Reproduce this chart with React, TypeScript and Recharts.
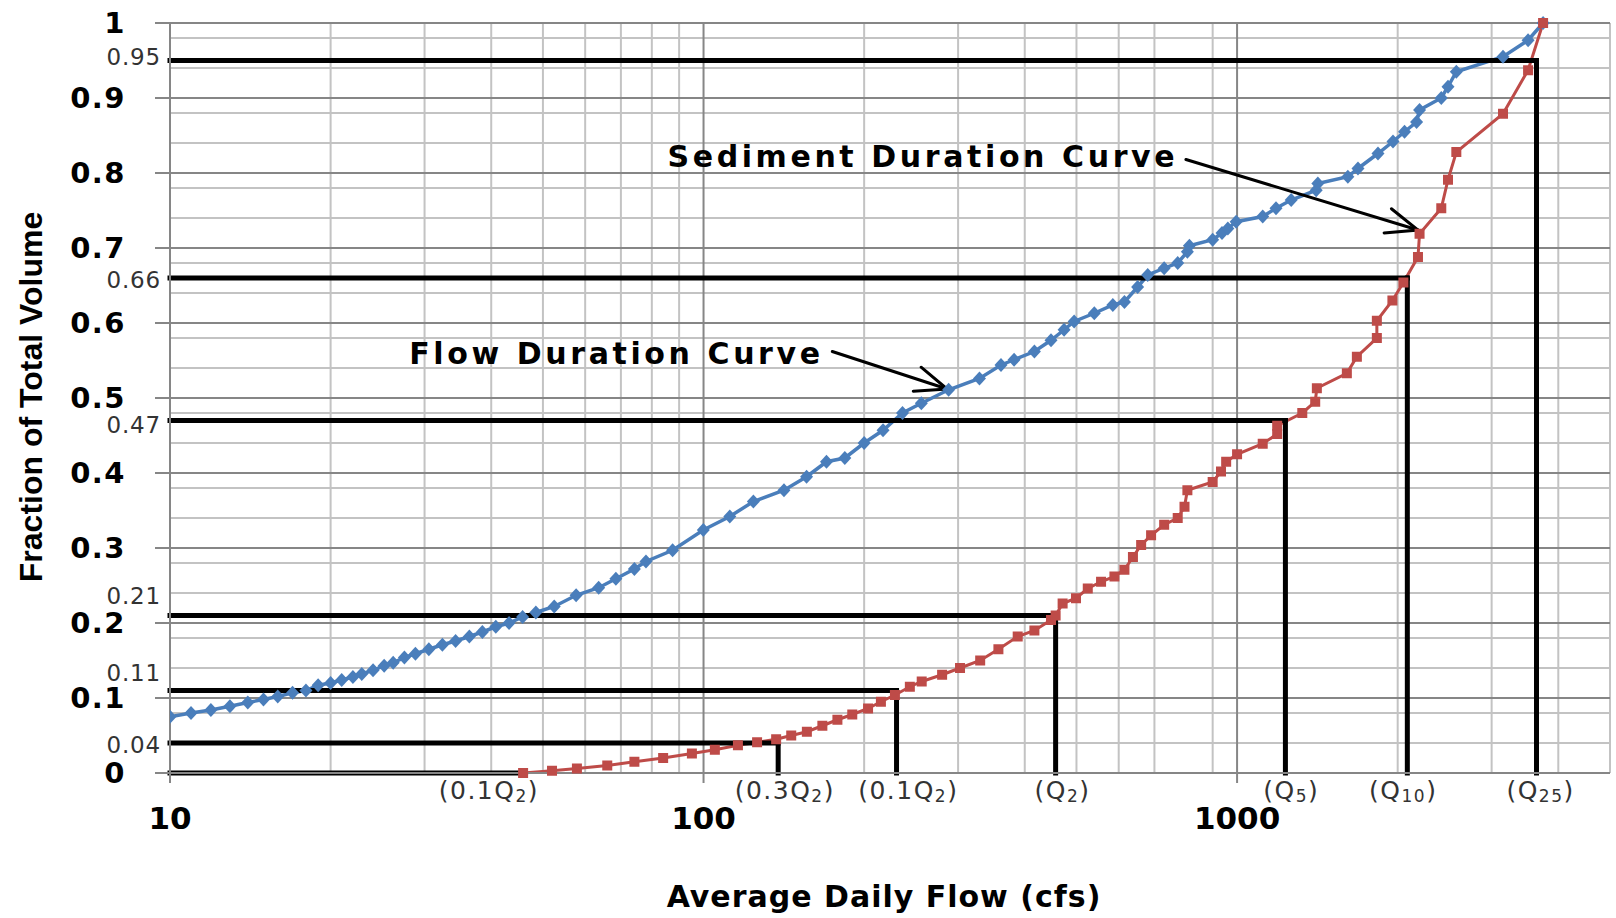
import React from "react";
import {
  LineChart,
  Line,
  XAxis,
  YAxis,
  CartesianGrid,
  ReferenceLine,
  ReferenceDot,
} from "recharts";

// Flow duration curve (blue)
const flowQ = [
  10, 10.95, 11.93, 12.95, 13.99, 14.97, 15.92, 16.97, 17.98, 18.95, 20, 20.98,
  22.02, 22.88, 24.02, 25.2, 26.2, 27.5, 28.84, 30.56, 32.4, 34.3, 36.4, 38.5,
  40.8, 43.2, 45.8, 48.5, 52.5, 57.7, 63.6, 68.5, 74.2, 78, 87.5, 99.9, 112,
  124, 141.5, 156, 170, 184, 200, 217, 236, 256, 288, 329, 361, 382, 417, 448,
  474, 495, 540, 585, 615, 651, 680, 730, 774, 807, 814, 900, 937, 961, 996,
  1117, 1183, 1263, 1407, 1417, 1613, 1685, 1837, 1960, 2060, 2170, 2198, 2414,
  2485, 2576, 3151, 3511, 3746,
];
const flowFrac = [
  0.075, 0.08, 0.084, 0.089, 0.094, 0.098, 0.102, 0.107, 0.11, 0.117, 0.12,
  0.124, 0.128, 0.132, 0.137, 0.143, 0.147, 0.154, 0.159, 0.165, 0.171, 0.176,
  0.182, 0.188, 0.195, 0.2, 0.208, 0.214, 0.222, 0.237, 0.247, 0.259, 0.272,
  0.282, 0.297, 0.324, 0.342, 0.362, 0.377, 0.395, 0.415, 0.42, 0.44, 0.457,
  0.48, 0.493, 0.511, 0.526, 0.544, 0.551, 0.562, 0.577, 0.591, 0.602, 0.613,
  0.624, 0.628, 0.648, 0.664, 0.673, 0.68, 0.695, 0.703, 0.711, 0.72, 0.726,
  0.735, 0.742, 0.753, 0.764, 0.777, 0.786, 0.795, 0.806, 0.826, 0.842, 0.855,
  0.868, 0.884, 0.9, 0.915, 0.935, 0.955, 0.977, 1.0,
];

// Sediment duration curve (red)
const sedQ = [
  45.9, 52, 57.9, 66, 74.2, 84, 95.1, 105, 116, 126, 136.8, 146, 156.2, 167,
  178.2, 190, 203.4, 215, 228.4, 243.6, 256.4, 280, 302.5, 330, 357, 388, 417,
  448, 457, 471, 499, 525, 556, 589, 615, 638, 661, 690, 730, 774, 797, 807,
  900, 933, 954, 1000, 1117, 1189, 1189, 1325, 1401, 1411, 1606, 1677, 1828,
  1828, 1955, 2050, 2183, 2198, 2414, 2485, 2576, 3151, 3511, 3746,
];
const sedFrac = [
  0, 0.003, 0.006, 0.01, 0.015, 0.02, 0.026, 0.031, 0.037, 0.041, 0.045, 0.05,
  0.055, 0.063, 0.071, 0.078, 0.086, 0.095, 0.104, 0.115, 0.122, 0.131, 0.14,
  0.15, 0.165, 0.182, 0.19, 0.204, 0.21, 0.226, 0.233, 0.246, 0.255, 0.262,
  0.271, 0.288, 0.304, 0.317, 0.331, 0.34, 0.355, 0.377, 0.388, 0.402, 0.415,
  0.425, 0.439, 0.452, 0.463, 0.48, 0.495, 0.513, 0.533, 0.555, 0.58, 0.603,
  0.63, 0.654, 0.688, 0.719, 0.753, 0.791, 0.828, 0.879, 0.937, 1.0,
];

// black guide lines: fraction level and the flow where it meets the sediment curve
const levels = [0.95, 0.66, 0.47, 0.21, 0.11, 0.04, 0];
const levelQ = [3641, 2085, 1232, 457, 230, 138, 45.9];
const levelText = ["0.95", "0.66", "0.47", "0.21", "0.11", "0.04", ""];
const levelDy = [-4, 2, 4, -20, -18, 2, 0];

// flow labels under the axis
const qLabelX = [39.6, 142, 242, 471, 1264, 2049, 3706];
const qLabelPre = ["(0.1Q", "(0.3Q", "(0.1Q", "(Q", "(Q", "(Q", "(Q"];
const qLabelSub = ["2", "2", "2", "2", "5", "10", "25"];

const xTicks = [10, 100, 1000];
const yTicks = [0, 0.1, 0.2, 0.3, 0.4, 0.5, 0.6, 0.7, 0.8, 0.9, 1];
const xMinor = [
  20, 30, 40, 50, 60, 70, 80, 90, 200, 300, 400, 500, 600, 700, 800, 900, 2000,
  3000, 4000, 5000,
];
const yMinor = [
  0.02, 0.04, 0.06, 0.08, 0.12, 0.14, 0.16, 0.18, 0.22, 0.24, 0.26, 0.28, 0.32,
  0.34, 0.36, 0.38, 0.42, 0.44, 0.46, 0.48, 0.52, 0.54, 0.56, 0.58, 0.62, 0.64,
  0.66, 0.68, 0.72, 0.74, 0.76, 0.78, 0.82, 0.84, 0.86, 0.88, 0.92, 0.94, 0.96,
  0.98,
];

// annotations (arrow tail -> tip, text start)
const notes = [
  { text: "Sediment Duration Curve", tx: 85.6, ty: 0.808, x1: 802, y1: 0.818, x2: 2183, y2: 0.724 },
  { text: "Flow Duration Curve", tx: 28.08, ty: 0.546, x1: 174.3, y1: 0.562, x2: 286.2, y2: 0.512 },
];

const flowData = flowQ.map((x, i) => ({ x, y: flowFrac[i] }));
const sedData = sedQ.map((x, i) => ({ x, y: sedFrac[i] }));

const BLUE = "#4a7ebb";
const RED = "#be4b48";
const AXIS = "#868686";
const BOLD = "'DejaVu Sans', Verdana, sans-serif";

const Diamond = (p: any) => {
  if (p.cx == null) return <g key={p.index} />;
  const { cx, cy } = p;
  return (
    <path
      key={p.index}
      d={`M${cx},${cy - 7}L${cx + 6.5},${cy}L${cx},${cy + 7}L${cx - 6.5},${cy}Z`}
      fill={BLUE}
    />
  );
};

const Square = (p: any) => {
  if (p.cx == null) return <g key={p.index} />;
  return <rect key={p.index} x={p.cx - 5} y={p.cy - 5} width={10} height={10} fill={RED} />;
};

const Arrow = (p: any) => {
  const { x1, y1, x2, y2 } = p;
  const a = Math.atan2(y1 - y2, x1 - x2);
  const len = 34;
  const b1 = a + 0.38;
  const b2 = a - 0.38;
  return (
    <g stroke="#000" strokeWidth={3} strokeLinecap="round" fill="none">
      <line x1={x1} y1={y1} x2={x2} y2={y2} />
      <polyline
        points={`${x2 + len * Math.cos(b1)},${y2 + len * Math.sin(b1)} ${x2},${y2} ${x2 + len * Math.cos(b2)},${y2 + len * Math.sin(b2)}`}
      />
    </g>
  );
};

export default function App() {
  return (
    <div style={{ width: 1616, height: 918, background: "#fff" }}>
      <style>{"body{margin:0}"}</style>
      <LineChart
        width={1616}
        height={918}
        margin={{ top: 23, right: 6, bottom: 5, left: 10 }}
      >
        <CartesianGrid
          stroke="#c3c3c3"
          strokeWidth={2}
          horizontalValues={yMinor}
          verticalValues={xMinor}
        />
        <CartesianGrid
          stroke={AXIS}
          strokeWidth={2}
          horizontalValues={yTicks}
          verticalValues={xTicks}
        />
        <XAxis
          type="number"
          dataKey="x"
          scale="log"
          domain={[10, 5000]}
          allowDataOverflow
          ticks={xTicks}
          height={140}
          tickSize={10}
          tickMargin={24}
          axisLine={{ stroke: AXIS, strokeWidth: 2 }}
          tickLine={{ stroke: AXIS, strokeWidth: 2 }}
          tick={{ fontFamily: BOLD, fontWeight: "bold", fontSize: 31, fill: "#000" }}
          label={{
            content: ({ viewBox }: any) => (
              <text
                x={viewBox.x + 714}
                y={viewBox.y + 134}
                textAnchor="middle"
                fontFamily={BOLD}
                fontWeight="bold"
                fontSize={30}
                letterSpacing={1}
                fill="#000"
              >
                Average Daily Flow (cfs)
              </text>
            ),
          }}
        />
        <YAxis
          type="number"
          dataKey="y"
          domain={[0, 1]}
          ticks={yTicks}
          width={160}
          tickSize={15}
          tickMargin={29}
          tickFormatter={(v: number) => String(+v.toFixed(1))}
          axisLine={{ stroke: AXIS, strokeWidth: 2 }}
          tickLine={{ stroke: AXIS, strokeWidth: 2 }}
          tick={{ fontFamily: BOLD, fontWeight: "bold", fontSize: 29, fill: "#000", letterSpacing: 1.5 }}
          label={{
            content: ({ viewBox }: any) => (
              <text
                x={viewBox.x + 21}
                y={397}
                transform={`rotate(-90 ${viewBox.x + 21} 397)`}
                textAnchor="middle"
                dominantBaseline="central"
                fontFamily="'Liberation Sans', Arial, sans-serif"
                fontWeight="bold"
                fontSize={32}
                fill="#000"
              >
                Fraction of Total Volume
              </text>
            ),
          }}
        />

        <Line
          data={flowData}
          dataKey="y"
          type="linear"
          stroke={BLUE}
          strokeWidth={3.5}
          dot={Diamond}
          activeDot={false}
          isAnimationActive={false}
        />
        <Line
          data={sedData}
          dataKey="y"
          type="linear"
          stroke={RED}
          strokeWidth={3}
          dot={Square}
          activeDot={false}
          isAnimationActive={false}
        />

        {levels.map((lv, i) => (
          <ReferenceLine
            key={`h${i}`}
            segment={[
              { x: 10, y: lv },
              { x: levelQ[i], y: lv },
            ]}
            stroke="#000"
            strokeWidth={5}
            strokeLinecap="square"
          />
        ))}
        {levels.map((lv, i) =>
          lv > 0 ? (
            <ReferenceLine
              key={`v${i}`}
              segment={[
                { x: levelQ[i], y: 0 },
                { x: levelQ[i], y: lv },
              ]}
              stroke="#000"
              strokeWidth={5}
              strokeLinecap="square"
            />
          ) : null
        )}
        {levels.map((lv, i) =>
          levelText[i] ? (
            <ReferenceDot
              key={`lt${i}`}
              x={10}
              y={lv}
              r={0}
              shape={(p: any) => (
                <text
                  x={p.cx - 9}
                  y={p.cy + levelDy[i]}
                  textAnchor="end"
                  dominantBaseline="central"
                  fontFamily="'DejaVu Sans', sans-serif"
                  fontSize={23}
                  letterSpacing={0.8}
                  fill="#333"
                >
                  {levelText[i]}
                </text>
              )}
            />
          ) : null
        )}
        {qLabelX.map((qx, i) => (
          <ReferenceDot
            key={`q${i}`}
            x={qx}
            y={0}
            r={0}
            shape={(p: any) => (
              <text
                x={p.cx}
                y={p.cy + 26}
                textAnchor="middle"
                fontFamily="'DejaVu Sans', sans-serif"
                fontSize={25}
                letterSpacing={1.5}
                fill="#333"
              >
                {qLabelPre[i]}
                <tspan fontSize={17} dy={3}>
                  {qLabelSub[i]}
                </tspan>
                <tspan dy={-3}>)</tspan>
              </text>
            )}
          />
        ))}
        {notes.map((n, i) => (
          <ReferenceLine
            key={`a${i}`}
            segment={[
              { x: n.x1, y: n.y1 },
              { x: n.x2, y: n.y2 },
            ]}
            shape={Arrow}
          />
        ))}
        {notes.map((n, i) => (
          <ReferenceDot
            key={`n${i}`}
            x={n.tx}
            y={n.ty}
            r={0}
            shape={(p: any) => (
              <text
                x={p.cx}
                y={p.cy}
                fontFamily={BOLD}
                fontWeight="bold"
                fontSize={30}
                letterSpacing={3.6}
                fill="#000"
              >
                {n.text}
              </text>
            )}
          />
        ))}
      </LineChart>
    </div>
  );
}
